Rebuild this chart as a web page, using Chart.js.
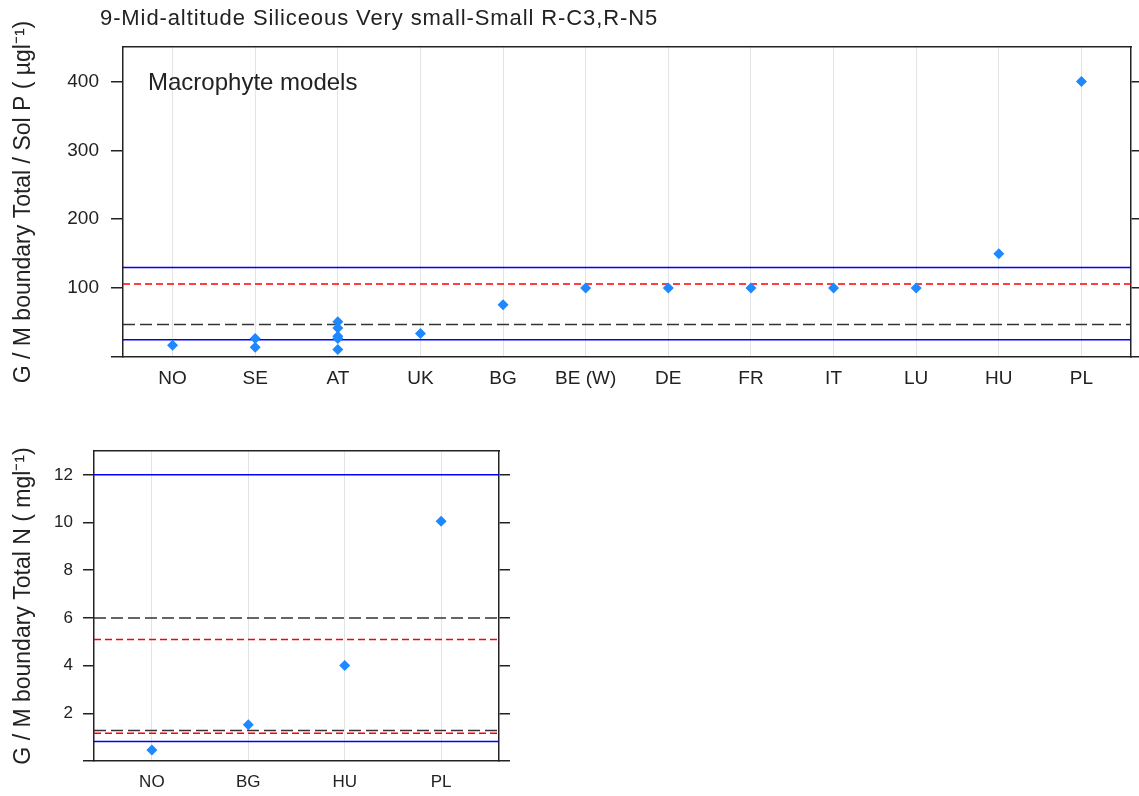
<!DOCTYPE html>
<html>
<head>
<meta charset="utf-8">
<script src="https://cdn.jsdelivr.net/npm/chart.js@4.4.1/dist/chart.umd.min.js"></script>
<style>
  body { margin: 0; background: #fff; font-family: "Liberation Sans", Arial, sans-serif; }
  #wrap { position: relative; width: 1139px; height: 796px; }
  #topBox { position: absolute; left: 0; top: 0; width: 1139px; height: 400px; }
  #botBox { position: absolute; left: 0; top: 430px; width: 620px; height: 366px; }
  #mainTitle { position: absolute; left: 100px; top: 5px; font-size: 22px; letter-spacing: 0.9px; color: #222; white-space: nowrap; }
  #modelNote { position: absolute; left: 148px; top: 68px; font-size: 24px; color: #222; white-space: nowrap; }
</style>
</head>
<body>
<div id="wrap">
  <div id="topBox"><canvas id="pChart"></canvas></div>
  <div id="botBox"><canvas id="nChart"></canvas></div>
  <div id="mainTitle">9-Mid-altitude Siliceous Very small-Small R-C3,R-N5</div>
  <div id="modelNote">Macrophyte models</div>
</div>
<script>
// phosphorus panel
const pCountries = ["NO", "SE", "AT", "UK", "BG", "BE (W)", "DE", "FR", "IT", "LU", "HU", "PL"];
const pPointCountry = [0, 1, 1, 2, 2, 2, 2, 2, 3, 4, 5, 6, 7, 8, 9, 10, 11];
const pPointValue = [17, 27, 14, 51, 42, 30, 27, 11, 34, 76, 100, 100, 100, 100, 100, 150, 400];
const pTicks = [0, 100, 200, 300, 400];
const pBlueLines = [25, 130];
const pRedLines = [106];
const pBlackLines = [47];

// nitrogen panel
const nCountries = ["NO", "BG", "HU", "PL"];
const nPointValue = [0.46, 1.52, 4.0, 10.05];
const nTicks = [0, 2, 4, 6, 8, 10, 12];
const nBlueLines = [0.82, 12];
const nRedLines = [1.16, 5.1];
const nBlackLines = [1.28, 6];

const PAD = 0.6;
const FRAME = "#222";
const DOT = "#1E88FF";

function hLines(vals, color, dash, lo, hi) {
  return vals.map(v => ({
    type: "line",
    data: [{ x: lo, y: v }, { x: hi, y: v }],
    borderColor: color,
    borderWidth: 1.5,
    borderDash: dash,
    pointRadius: 0,
    order: 2
  }));
}

function buildChart(id, cats, pts, ticks, ymax, lines, opt) {
  const lo = -PAD, hi = cats.length - 1 + PAD;
  const datasets = [
    ...hLines(lines.blue, "#0000FF", [], lo, hi),
    ...hLines(lines.red, "#FF0000", [7, 4], lo, hi),
    ...hLines(lines.black, "#333333", [12, 5], lo, hi),
    {
      type: "scatter",
      data: pts,
      pointStyle: "rectRot",
      pointRadius: opt.dot,
      pointHoverRadius: opt.dot,
      backgroundColor: DOT,
      borderColor: DOT,
      borderWidth: 0,
      order: 0
    }
  ];
  const yTicks = s => { s.ticks = ticks.map(v => ({ value: v })); };
  return new Chart(document.getElementById(id), {
    type: "scatter",
    data: { datasets },
    options: {
      responsive: true,
      maintainAspectRatio: false,
      animation: false,
      events: [],
      layout: { padding: { top: opt.top, right: opt.right, left: 0, bottom: 0 } },
      plugins: { legend: { display: false }, tooltip: { enabled: false } },
      scales: {
        x: {
          type: "linear", min: lo, max: hi,
          afterBuildTicks: s => { s.ticks = cats.map((c, i) => ({ value: i })); },
          afterFit: s => { s.height = opt.xh; },
          ticks: { callback: v => cats[v], color: "#222", font: { size: opt.tick }, padding: opt.xpad, maxRotation: 0, autoSkip: false },
          grid: { color: "#E4E4E4", lineWidth: 1, drawTicks: false },
          border: { color: FRAME, width: 1.5 }
        },
        x2: {
          type: "linear", position: "top", min: lo, max: hi,
          afterBuildTicks: s => { s.ticks = []; },
          ticks: { display: false },
          grid: { drawOnChartArea: false, drawTicks: false },
          border: { color: FRAME, width: 1.5 }
        },
        y: {
          type: "linear", min: 0, max: ymax,
          afterBuildTicks: yTicks,
          afterFit: s => { s.width = opt.yw; },
          ticks: { callback: v => (v === 0 ? "" : v), color: "#222", font: { size: opt.tick }, padding: opt.ypad },
          grid: { drawOnChartArea: false, tickLength: opt.tl, color: FRAME, lineWidth: 1.5 },
          border: { color: FRAME, width: 1.5 },
          title: { display: true, text: opt.title, color: "#222", font: { size: opt.tsize }, padding: { top: opt.tpad, bottom: 0 } }
        },
        y2: {
          type: "linear", position: "right", min: 0, max: ymax,
          afterBuildTicks: yTicks,
          afterFit: s => { s.width = opt.tl2; },
          ticks: { display: false },
          grid: { drawOnChartArea: false, tickLength: opt.tl2, color: FRAME, lineWidth: 1.5 },
          border: { color: FRAME, width: 1.5 }
        }
      }
    }
  });
}

buildChart("pChart", pCountries,
  pPointValue.map((v, i) => ({ x: pPointCountry[i], y: v })),
  pTicks, 450,
  { blue: pBlueLines, red: pRedLines, black: pBlackLines },
  { top: 47, right: 0, xh: 43, yw: 123, tl: 12, tl2: 8, tick: 19, xpad: 10, ypad: 12,
    dot: 5.5, title: "G / M boundary Total / Sol P ( \u00B5gl\u207B\u00B9)", tsize: 23, tpad: 10 });

buildChart("nChart", nCountries,
  nPointValue.map((v, i) => ({ x: i, y: v })),
  nTicks, 13,
  { blue: nBlueLines, red: nRedLines, black: nBlackLines },
  { top: 21, right: 110, xh: 35, yw: 94, tl: 11, tl2: 11, tick: 17, xpad: 11, ypad: 10,
    dot: 5.5, title: "G / M boundary Total N ( mgl\u207B\u00B9)", tsize: 23, tpad: 10 });
</script>
</body>
</html>
